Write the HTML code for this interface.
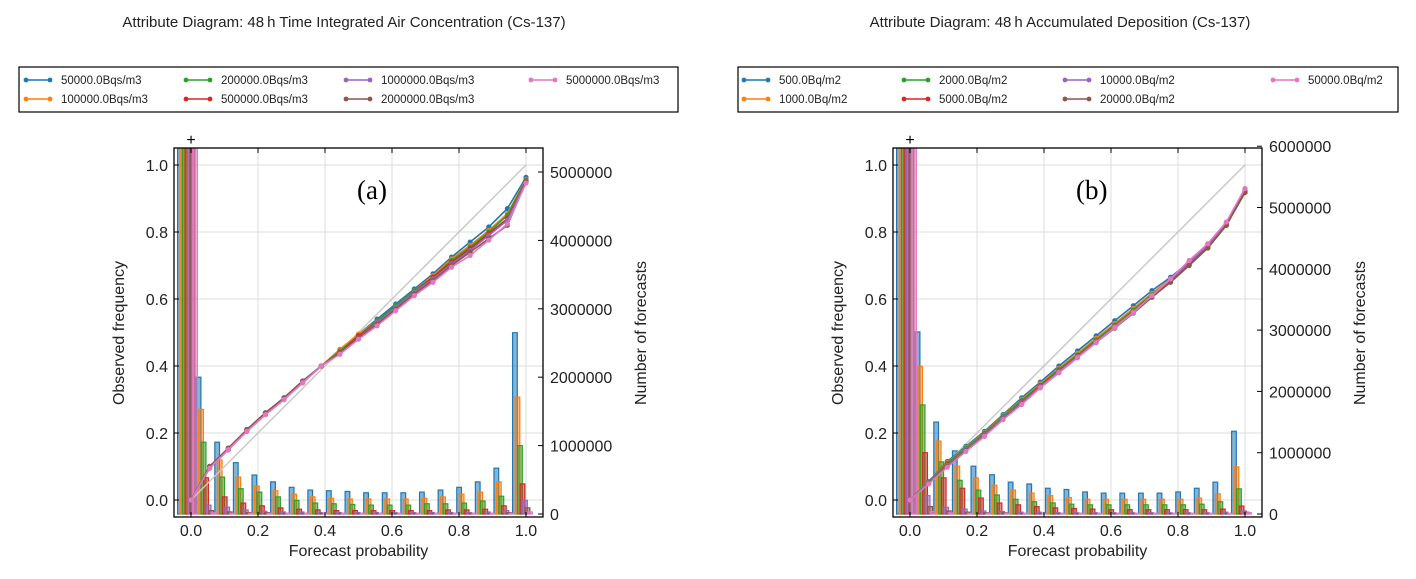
<!DOCTYPE html>
<html><head><meta charset="utf-8">
<style>
html,body{margin:0;padding:0;background:#fff;}
svg{display:block;font-family:"Liberation Sans",sans-serif;}
</style></head>
<body>
<svg id="chart" width="1416" height="579" viewBox="0 0 1416 579" xmlns="http://www.w3.org/2000/svg"></svg>
<script>
const probs = [0,1/18,2/18,3/18,4/18,5/18,6/18,7/18,8/18,9/18,10/18,11/18,12/18,13/18,14/18,15/18,16/18,17/18,1];
const colors = ["#1f77b4","#ff7f0e","#2ca02c","#d62728","#9467bd","#8c564b","#e377c2"];
const xTicks = [0,0.2,0.4,0.6,0.8,1.0];
const xTickLabels = ["0.0","0.2","0.4","0.6","0.8","1.0"];
const yTicks = [0,0.2,0.4,0.6,0.8,1.0];
const yTickLabels = ["0.0","0.2","0.4","0.6","0.8","1.0"];

const labelsA = ["50000.0Bqs/m3","100000.0Bqs/m3","200000.0Bqs/m3","500000.0Bqs/m3","1000000.0Bqs/m3","2000000.0Bqs/m3","5000000.0Bqs/m3"];
const labelsB = ["500.0Bq/m2","1000.0Bq/m2","2000.0Bq/m2","5000.0Bq/m2","10000.0Bq/m2","20000.0Bq/m2","50000.0Bq/m2"];

const obsA_blue   = [0,0.10,0.15,0.21,0.26,0.305,0.355,0.40,0.445,0.495,0.54,0.585,0.63,0.675,0.725,0.77,0.815,0.87,0.963];
const obsA_orange = [0,0.10,0.15,0.21,0.26,0.305,0.355,0.40,0.45,0.495,0.535,0.58,0.625,0.67,0.72,0.76,0.805,0.855,0.957];
const obsA_green  = [0,0.10,0.15,0.21,0.26,0.305,0.355,0.40,0.445,0.49,0.535,0.58,0.625,0.665,0.715,0.755,0.80,0.85,0.955];
const obsA_red    = [0,0.095,0.15,0.205,0.255,0.30,0.35,0.40,0.44,0.49,0.53,0.575,0.62,0.665,0.71,0.75,0.795,0.84,0.953];
const obsA_purple = [0,0.10,0.15,0.21,0.26,0.305,0.355,0.40,0.44,0.485,0.53,0.575,0.62,0.66,0.705,0.745,0.79,0.835,0.952];
const obsA_brown  = [0,0.10,0.155,0.21,0.26,0.305,0.355,0.40,0.44,0.485,0.525,0.57,0.615,0.655,0.70,0.74,0.78,0.82,0.950];
const obsA_pink   = [0,0.095,0.15,0.205,0.255,0.30,0.35,0.40,0.435,0.48,0.52,0.565,0.61,0.65,0.695,0.73,0.776,0.824,0.946];

const cntA_blue   = [30,2.0,1.05,0.75,0.57,0.47,0.39,0.35,0.34,0.33,0.31,0.31,0.31,0.32,0.35,0.39,0.47,0.67,2.65];
const cntA_orange = [30,1.53,0.79,0.54,0.41,0.34,0.29,0.25,0.23,0.22,0.22,0.22,0.22,0.23,0.25,0.29,0.32,0.47,1.71];
const cntA_green  = [30,1.05,0.54,0.37,0.32,0.25,0.2,0.16,0.15,0.14,0.13,0.13,0.13,0.15,0.15,0.16,0.19,0.26,1.0];
const cntA_red    = [30,0.53,0.25,0.16,0.12,0.09,0.07,0.06,0.05,0.05,0.05,0.05,0.05,0.05,0.06,0.06,0.07,0.12,0.44];
const cntA_purple = [30,0.13,0.1,0.06,0.04,0.03,0.03,0.02,0.02,0.02,0.02,0.02,0.02,0.02,0.02,0.02,0.03,0.05,0.2];
const cntA_brown  = [30,0.05,0.03,0.02,0.02,0.01,0.01,0.01,0.01,0.01,0.01,0.01,0.01,0.01,0.01,0.01,0.01,0.02,0.09];
const cntA_pink   = [30,0.02,0.01,0.01,0.01,0.01,0.01,0.01,0.01,0.01,0.01,0.01,0.01,0.01,0.01,0.01,0.01,0.01,0.03];

const obsB_blue   = [0,0.055,0.115,0.16,0.205,0.255,0.305,0.352,0.40,0.445,0.49,0.535,0.58,0.625,0.665,0.71,0.76,0.825,0.925];
const obsB_orange = [0,0.053,0.112,0.157,0.202,0.252,0.3,0.347,0.393,0.438,0.483,0.527,0.572,0.617,0.66,0.706,0.757,0.824,0.922];
const obsB_green  = [0,0.052,0.11,0.155,0.2,0.25,0.297,0.343,0.39,0.433,0.478,0.522,0.567,0.613,0.655,0.702,0.752,0.82,0.918];
const obsB_red    = [0,0.05,0.105,0.15,0.196,0.245,0.292,0.34,0.385,0.43,0.474,0.518,0.563,0.61,0.655,0.705,0.755,0.822,0.918];
const obsB_purple = [0,0.05,0.103,0.15,0.195,0.245,0.29,0.338,0.383,0.428,0.473,0.517,0.562,0.61,0.657,0.708,0.76,0.826,0.928];
const obsB_brown  = [0,0.049,0.1,0.147,0.192,0.242,0.287,0.335,0.38,0.425,0.47,0.513,0.558,0.605,0.65,0.7,0.752,0.82,0.92];
const obsB_pink   = [0,0.048,0.098,0.145,0.19,0.24,0.285,0.335,0.38,0.425,0.47,0.515,0.56,0.61,0.66,0.715,0.765,0.83,0.93];

const cntB_blue   = [30,2.97,1.5,1.03,0.78,0.64,0.52,0.49,0.42,0.40,0.36,0.34,0.34,0.34,0.34,0.36,0.42,0.52,1.35];
const cntB_orange = [30,2.41,1.19,0.78,0.59,0.47,0.39,0.34,0.3,0.27,0.24,0.24,0.24,0.24,0.24,0.24,0.26,0.33,0.77];
const cntB_green  = [30,1.78,0.85,0.55,0.39,0.31,0.24,0.2,0.18,0.16,0.15,0.15,0.15,0.15,0.15,0.15,0.16,0.2,0.41];
const cntB_red    = [30,1.0,0.59,0.42,0.26,0.18,0.15,0.12,0.1,0.09,0.08,0.07,0.07,0.07,0.07,0.07,0.07,0.08,0.13];
const cntB_purple = [30,0.3,0.11,0.08,0.05,0.04,0.03,0.03,0.02,0.02,0.02,0.02,0.02,0.02,0.02,0.02,0.02,0.03,0.05];
const cntB_brown  = [30,0.12,0.05,0.03,0.02,0.02,0.01,0.01,0.01,0.01,0.01,0.01,0.01,0.01,0.01,0.01,0.01,0.01,0.03];
const cntB_pink   = [30,0.04,0.02,0.01,0.01,0.01,0.01,0.01,0.01,0.01,0.01,0.01,0.01,0.01,0.01,0.01,0.01,0.01,0.02];

const countTicksA = [0,1,2,3,4,5];
const countTickLabelsA = ["0","1000000","2000000","3000000","4000000","5000000"];
const countTicksB = [0,1,2,3,4,5,6];
const countTickLabelsB = ["0","1000000","2000000","3000000","4000000","5000000","6000000"];

const NS = "http://www.w3.org/2000/svg";
const svg = document.getElementById("chart");
function mk(tag, attrs, parent, text){
  const e = document.createElementNS(NS, tag);
  for (const k in attrs) e.setAttribute(k, attrs[k]);
  if (text !== undefined) e.textContent = text;
  (parent||svg).appendChild(e);
  return e;
}

function panel(cfg){
  const g = mk("g", {});
  
  
  const L = cfg.left, R = cfg.left + 369, T = 148, B = 517;
  const x0 = L + 17; const sx = 335;
  const X = p => x0 + p*sx;
  const Y = o => 500 - o*335;
  const YC = c => 514 - c*cfg.cScale;
  const clipId = "clip"+cfg.name;
  const defs = mk("defs", {}, g);
  const cp = mk("clipPath", {id: clipId}, defs);
  mk("rect", {x:L, y:T, width:R-L, height:B-T}, cp);

  // title
  const t = mk("text", {x: cfg.titleX, y: 27, "font-size": 15, "text-anchor":"middle", fill:"#222"}, g, cfg.title);
  
  

  // grid
  const grid = mk("g", {stroke:"#dcdcdc", "stroke-width":1}, g);
  
  
  xTicks.forEach(v => mk("line", {x1:X(v), x2:X(v), y1:T, y2:B}, grid));
  yTicks.forEach(v => mk("line", {x1:L, x2:R, y1:Y(v), y2:Y(v)}, grid));

  const plot = mk("g", {"clip-path":"url(#"+clipId+")"}, g);
  // bars
  const bw = 0.014*sx, off = 0.0075*sx;
  cfg.counts.forEach((arr, si) => {
    const bg = mk("g", {}, plot);
    
    
    arr.forEach((c, k) => {
      const xs = X(probs[k] - 0.04) + si*off;
      const yt = YC(c);
      const r = mk("rect", {x: xs, y: yt, width: bw, height: Math.max(0, 514 - yt), fill: colors[si], "fill-opacity":0.55, stroke: colors[si], "stroke-width":1.2}, bg);
      
      
    });
  });
  // diagonal
  const d = mk("line", {x1:X(0), y1:Y(0), x2:X(1), y2:Y(1), stroke:"#c8c8c8", "stroke-width":1.5}, plot);
  
  
  // curves
  cfg.obs.forEach((arr, si) => {
    const lg = mk("g", {}, plot);
    
    
    mk("polyline", {points: arr.map((o,k)=>X(probs[k])+","+Y(o)).join(" "), fill:"none", stroke:colors[si], "stroke-width":1.6}, lg);
    arr.forEach((o,k) => {
      const c = mk("circle", {cx:X(probs[k]), cy:Y(o), r:2.6, fill:colors[si]}, lg);
      
      
    });
  });

  // frame
  const fr = mk("rect", {x:L, y:T, width:R-L, height:B-T, fill:"none", stroke:"#000", "stroke-width":1.3}, g);
  
  
  mk("text", {x:X(0), y:T-3, "font-size":16, "text-anchor":"middle", fill:"#000"}, g, "+");

  // x ticks
  const xa = mk("g", {"font-size":16, fill:"#222"}, g);
  
  
  xTicks.forEach((v,i) => {
    mk("line", {x1:X(v), x2:X(v), y1:B, y2:B-5, stroke:"#000"}, xa);
    mk("line", {x1:X(v), x2:X(v), y1:T, y2:T+5, stroke:"#000"}, xa);
    mk("text", {x:X(v), y:B+19, "text-anchor":"middle"}, xa, xTickLabels[i]);
  });
  const xl = mk("text", {x:(L+R)/2, y:556, "font-size":16, "text-anchor":"middle", fill:"#222"}, g, "Forecast probability");
  
  

  const ya = mk("g", {"font-size":16, fill:"#222"}, g);
  
  
  yTicks.forEach((v,i) => {
    mk("line", {x1:L, x2:L+5, y1:Y(v), y2:Y(v), stroke:"#000"}, ya);
    mk("text", {x:L-6, y:Y(v)+6, "text-anchor":"end"}, ya, yTickLabels[i]);
  });
  const yl = mk("text", {x:0, y:0, "font-size":16, "text-anchor":"middle", fill:"#222", transform:"translate("+(L-50)+",333) rotate(-90)"}, g, "Observed frequency");
  
  

  const yr = mk("g", {"font-size":16, fill:"#222"}, g);
  
  
  cfg.cTicks.forEach((v,i) => {
    mk("line", {x1:R, x2:R-5, y1:YC(v), y2:YC(v), stroke:"#000"}, yr);
    mk("text", {x:R+7, y:YC(v)+6}, yr, cfg.cTickLabels[i]);
  });
  const yrl = mk("text", {x:0, y:0, "font-size":16, "text-anchor":"middle", fill:"#222", transform:"translate("+(R+103)+",333) rotate(-90)"}, g, "Number of forecasts");
  
  

  const pl = mk("text", {x:cfg.left+183, y:199, "font-size":27, "font-family":"Liberation Serif, serif", fill:"#000"}, g, cfg.tag);
  
  

  // legend
  const lg = mk("g", {"font-size":11.5, fill:"#222"}, g);
  
  
  mk("rect", {x:cfg.legX, y:67, width:cfg.legW, height:45, fill:"#fff", stroke:"#000", "stroke-width":1.2}, lg);
  cfg.labels.forEach((lab, i) => {
    const col = Math.floor(i/2), row = i%2;
    const lx = cfg.legX + cfg.legCols[col];
    const ly = 80 + row*19;
    const e = mk("g", {}, lg);
    
    
    mk("line", {x1:lx, x2:lx+24, y1:ly, y2:ly, stroke:colors[i], "stroke-width":1.6}, e);
    mk("circle", {cx:lx, cy:ly, r:2.4, fill:colors[i]}, e);
    mk("circle", {cx:lx+24, cy:ly, r:2.4, fill:colors[i]}, e);
    mk("text", {x:lx+35, y:ly+4}, e, lab);
  });
}

panel({name:"panel-a", left:174, title:"Attribute Diagram: 48\u2009h Time Integrated Air Concentration (Cs-137)", titleX:344, tag:"(a)",
  obs:[obsA_blue,obsA_orange,obsA_green,obsA_red,obsA_purple,obsA_brown,obsA_pink],
  counts:[cntA_blue,cntA_orange,cntA_green,cntA_red,cntA_purple,cntA_brown,cntA_pink],
  cScale:68.4, cTicks:countTicksA, cTickLabels:countTickLabelsA, labels:labelsA,
  legX:19, legW:659, legCols:[7,167,327,512]});
panel({name:"panel-b", left:893, title:"Attribute Diagram: 48\u2009h Accumulated Deposition (Cs-137)", titleX:1060, tag:"(b)",
  obs:[obsB_blue,obsB_orange,obsB_green,obsB_red,obsB_purple,obsB_brown,obsB_pink],
  counts:[cntB_blue,cntB_orange,cntB_green,cntB_red,cntB_purple,cntB_brown,cntB_pink],
  cScale:61.3, cTicks:countTicksB, cTickLabels:countTickLabelsB, labels:labelsB,
  legX:738, legW:660, legCols:[6,166,327,535]});
</script>
</body></html>
